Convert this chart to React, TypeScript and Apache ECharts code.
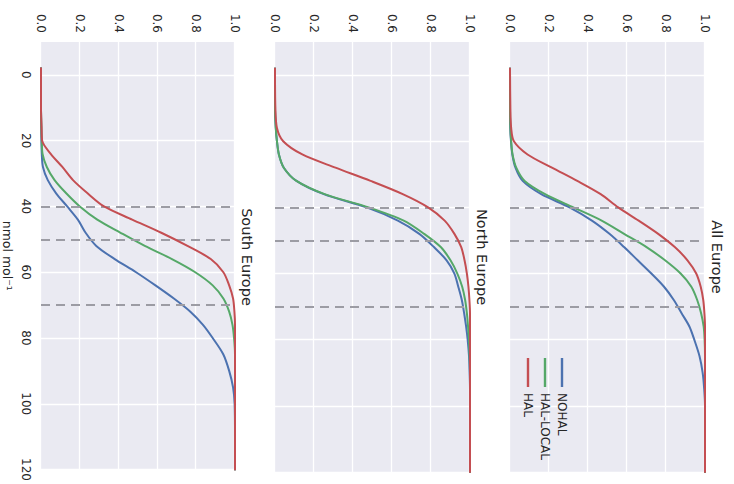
import React, { useEffect, useRef } from "react";
import * as echarts from "echarts";

// concentration grid (nmol mol^-1) at which the CDFs are read
const X_VALUES = [-2, 10, 16, 20, 24, 28, 32, 36, 40, 44, 48, 52, 56, 60, 64, 68, 72, 76, 80, 85, 90, 95, 100, 110, 120];
const X_TICKS = [0, 20, 40, 60, 80, 100, 120];
const REF_LINES = [40, 50, 70];
const REGIONS = ["All Europe", "North Europe", "South Europe"];
const SERIES_NAMES = ["NOHAL", "HAL-LOCAL", "HAL"];
const COLORS = ["#4C72B0", "#55A868", "#C44E52"];

const allEuropeNOHAL = [0, 0, 0.001, 0.005, 0.012, 0.028, 0.065, 0.16, 0.305, 0.42, 0.51, 0.585, 0.655, 0.725, 0.79, 0.84, 0.88, 0.92, 0.945, 0.972, 0.988, 0.996, 1, 1, 1];
const allEuropeHALLOCAL = [0, 0, 0.002, 0.006, 0.013, 0.032, 0.075, 0.18, 0.325, 0.47, 0.585, 0.7, 0.795, 0.875, 0.93, 0.96, 0.98, 0.993, 0.998, 1, 1, 1, 1, 1, 1];
const allEuropeHAL = [0, 0.002, 0.006, 0.02, 0.09, 0.215, 0.345, 0.465, 0.555, 0.66, 0.76, 0.845, 0.91, 0.955, 0.978, 0.991, 0.997, 1, 1, 1, 1, 1, 1, 1, 1];

const northEuropeNOHAL = [0, 0, 0.004, 0.01, 0.02, 0.045, 0.11, 0.25, 0.47, 0.63, 0.74, 0.815, 0.88, 0.92, 0.94, 0.958, 0.97, 0.98, 0.988, 0.995, 0.998, 1, 1, 1, 1];
const northEuropeHALLOCAL = [0, 0, 0.004, 0.01, 0.02, 0.045, 0.11, 0.255, 0.48, 0.66, 0.765, 0.85, 0.9, 0.935, 0.96, 0.975, 0.984, 0.99, 0.995, 0.998, 1, 1, 1, 1, 1];
const northEuropeHAL = [0, 0.002, 0.01, 0.042, 0.14, 0.31, 0.49, 0.655, 0.785, 0.87, 0.92, 0.955, 0.972, 0.984, 0.992, 0.997, 1, 1, 1, 1, 1, 1, 1, 1, 1];

const southEuropeNOHAL = [0, 0, 0.001, 0.002, 0.004, 0.01, 0.035, 0.078, 0.135, 0.19, 0.23, 0.285, 0.38, 0.49, 0.59, 0.685, 0.77, 0.835, 0.885, 0.94, 0.97, 0.99, 0.998, 1, 1];
const southEuropeHALLOCAL = [0, 0, 0.002, 0.004, 0.008, 0.03, 0.07, 0.13, 0.2, 0.29, 0.41, 0.535, 0.675, 0.795, 0.885, 0.94, 0.97, 0.987, 0.995, 1, 1, 1, 1, 1, 1];
const southEuropeHAL = [0, 0, 0.003, 0.006, 0.05, 0.11, 0.165, 0.24, 0.325, 0.47, 0.62, 0.755, 0.875, 0.94, 0.97, 0.99, 0.997, 1, 1, 1, 1, 1, 1, 1, 1];

const REGION_DATA = [
  [allEuropeNOHAL, allEuropeHALLOCAL, allEuropeHAL],
  [northEuropeNOHAL, northEuropeHALLOCAL, northEuropeHAL],
  [southEuropeNOHAL, southEuropeHALLOCAL, southEuropeHAL],
];

const FONT = "DejaVu Sans";
const TEXT = "#262626";
const GRID_TOPS = [29, 264, 499];
const GRID_H = 195;
const GRID_LEFT = 42;
const GRID_W = 430;

export default function App() {
  const ref = useRef<HTMLDivElement>(null);

  useEffect(() => {
    if (!ref.current) return;
    const chart = echarts.init(ref.current, null, { renderer: "svg" });

    const grids = GRID_TOPS.map((t) => ({
      left: GRID_LEFT,
      top: t,
      width: GRID_W,
      height: GRID_H,
      show: true,
      backgroundColor: "#EAEAF2",
      borderWidth: 0,
    }));

    const xAxes = GRID_TOPS.map((_, i) => ({
      gridIndex: i,
      type: "value",
      min: -10,
      max: 120,
      axisLine: { show: false },
      axisTick: { show: false, customValues: X_TICKS },
      axisLabel: {
        show: i === 2,
        customValues: X_TICKS,
        margin: 9,
        color: TEXT,
        fontSize: 12,
        fontFamily: FONT,
      },
      splitLine: { show: true, lineStyle: { color: "#ffffff", width: 1.3 } },
      name: i === 2 ? "nmol mol⁻¹" : "",
      nameLocation: "middle",
      nameGap: 27,
      nameTextStyle: { color: TEXT, fontSize: 12.5, fontFamily: FONT },
    }));

    const yAxes = GRID_TOPS.map((_, i) => ({
      gridIndex: i,
      type: "value",
      min: 0,
      max: 1,
      interval: 0.2,
      axisLine: { show: false },
      axisTick: { show: false },
      axisLabel: {
        margin: 9,
        color: TEXT,
        fontSize: 12,
        fontFamily: FONT,
        formatter: (v: number) => v.toFixed(1),
      },
      splitLine: { show: true, lineStyle: { color: "#ffffff", width: 1.3 } },
    }));

    const series: any[] = [];
    REGION_DATA.forEach((set, gi) => {
      set.forEach((vals, si) => {
        series.push({
          name: SERIES_NAMES[si],
          type: "line",
          xAxisIndex: gi,
          yAxisIndex: gi,
          data: X_VALUES.map((x, k) => [x, vals[k]]),
          symbol: "none",
          showSymbol: false,
          smooth: 0.3,
          clip: true,
          z: 3 + si,
          lineStyle: { color: COLORS[si], width: 2, join: "round", cap: "round" },
          itemStyle: { color: COLORS[si] },
          markLine:
            si === 0
              ? {
                  silent: true,
                  symbol: "none",
                  label: { show: false },
                  lineStyle: { type: [9, 6], color: "#9c9ca4", width: 2 },
                  data: REF_LINES.map((v) => ({ xAxis: v })),
                }
              : undefined,
        });
      });
    });

    chart.setOption({
      animation: false,
      backgroundColor: "#ffffff",
      grid: grids,
      xAxis: xAxes,
      yAxis: yAxes,
      series,
      legend: {
        data: SERIES_NAMES,
        orient: "vertical",
        left: 353,
        top: 161,
        itemWidth: 29,
        itemHeight: 14,
        itemGap: 5,
        icon: "path://M0 5.8 H29 V8.2 H0 Z",
        textStyle: { color: TEXT, fontSize: 12, fontFamily: FONT, padding: [0, 0, 0, 1] },
      },
      graphic: REGIONS.map((r, i) => ({
        type: "text",
        x: GRID_LEFT + GRID_W / 2,
        y: GRID_TOPS[i] - 12,
        style: {
          text: r,
          align: "center",
          verticalAlign: "middle",
          textAlign: "center",
          textVerticalAlign: "middle",
          fontSize: 14.5,
          fontFamily: FONT,
          fill: TEXT,
        },
      })),
    });

    return () => chart.dispose();
  }, []);

  return (
    <div
      style={{
        position: "absolute",
        left: 0,
        top: 0,
        width: 734,
        height: 484,
        overflow: "hidden",
        background: "#ffffff",
      }}
    >
      <div
        ref={ref}
        style={{
          position: "absolute",
          left: 0,
          top: 0,
          width: 484,
          height: 734,
          transformOrigin: "0 0",
          transform: "translate(734px, 0px) rotate(90deg)",
        }}
      />
    </div>
  );
}
